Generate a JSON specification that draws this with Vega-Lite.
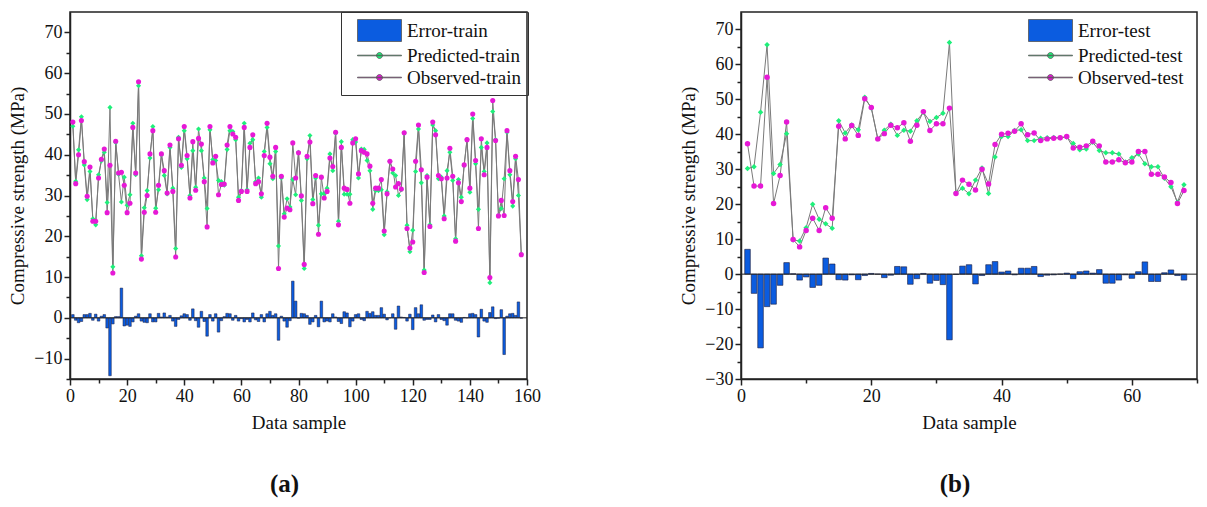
{
"$schema": "https://vega.github.io/schema/vega-lite/v6.json",
"background": "white",
"padding": {"left": 8, "top": 10, "right": 5, "bottom": 0},
"config": {
 "font": "Liberation Serif",
 "view": {"stroke": "#222", "strokeWidth": 1.5},
 "axis": {"domainColor": "#222", "domainWidth": 1.5, "tickColor": "#222", "tickWidth": 1.5, "labelFont": "Liberation Serif", "labelFontSize": 18, "labelColor": "#111", "titleFont": "Liberation Serif", "titleFontSize": 19, "titleFontWeight": "normal", "titleColor": "#111", "grid": false, "labelPadding": 2, "labelFlush": false, "labelOverlap": false},
 "legend": {"title": null, "padding": 7, "labelFont": "Liberation Serif", "labelFontSize": 19, "labelColor": "#111", "rowPadding": -3, "symbolSize": 484, "symbolOffset": 20, "labelOffset": 16, "symbolStrokeWidth": 0.8, "symbolStrokeColor": "#555555"},
 "title": {"font": "Liberation Serif", "fontSize": 25, "fontWeight": "bold", "color": "#111"},
 "concat": {"spacing": 137}
},
"datasets": {
 "train": [
{"n":1,"o":48.0,"p":47.0,"e":0.8},{"n":2,"o":32.9,"p":33.5,"e":-0.6},{"n":3,"o":40.0,"p":41.2,"e":-1.2},{"n":4,"o":48.4,"p":49.3,"e":-0.9},{"n":5,"o":38.3,"p":37.5,"e":0.8},{"n":6,"o":29.8,"p":29.0,"e":0.8},{"n":7,"o":37.0,"p":35.9,"e":1.1},{"n":8,"o":23.7,"p":24.3,"e":-0.6},{"n":9,"o":23.7,"p":22.8,"e":0.9},{"n":10,"o":34.3,"p":35.1,"e":-0.8},
{"n":11,"o":38.9,"p":38.5,"e":0.4},{"n":12,"o":41.4,"p":40.6,"e":0.8},{"n":13,"o":25.8,"p":28.3,"e":-2.5},{"n":14,"o":37.4,"p":51.6,"e":-14.2},{"n":15,"o":11.0,"p":12.5,"e":-1.5},{"n":16,"o":43.3,"p":43.0,"e":0.3},{"n":17,"o":35.5,"p":35.2,"e":0.3},{"n":18,"o":35.7,"p":28.4,"e":7.3},{"n":19,"o":32.5,"p":34.5,"e":-2.0},{"n":20,"o":25.8,"p":27.6,"e":-1.8},
{"n":21,"o":28.1,"p":30.2,"e":-2.1},{"n":22,"o":46.7,"p":47.7,"e":-1.0},{"n":23,"o":35.5,"p":35.1,"e":0.4},{"n":24,"o":57.9,"p":56.9,"e":1.0},{"n":25,"o":14.4,"p":15.2,"e":-0.8},{"n":26,"o":25.9,"p":27.0,"e":-1.1},{"n":27,"o":30.0,"p":31.2,"e":-1.2},{"n":28,"o":40.2,"p":39.2,"e":1.0},{"n":29,"o":45.9,"p":46.9,"e":-1.0},{"n":30,"o":25.9,"p":26.9,"e":-1.0},
{"n":31,"o":32.5,"p":31.4,"e":1.1},{"n":32,"o":40.2,"p":40.0,"e":0.2},{"n":33,"o":36.1,"p":34.9,"e":1.2},{"n":34,"o":30.6,"p":30.4,"e":0.2},{"n":35,"o":42.4,"p":41.8,"e":0.6},{"n":36,"o":31.0,"p":31.8,"e":-0.8},{"n":37,"o":14.9,"p":17.0,"e":-2.1},{"n":38,"o":43.9,"p":44.3,"e":-0.4},{"n":39,"o":37.4,"p":36.9,"e":0.5},{"n":40,"o":46.9,"p":45.9,"e":1.0},
{"n":41,"o":39.8,"p":39.0,"e":0.8},{"n":42,"o":29.4,"p":30.0,"e":-0.6},{"n":43,"o":43.2,"p":41.0,"e":2.2},{"n":44,"o":31.3,"p":32.0,"e":-0.7},{"n":45,"o":44.0,"p":46.3,"e":-2.3},{"n":46,"o":42.6,"p":41.0,"e":1.6},{"n":47,"o":33.4,"p":34.3,"e":-0.9},{"n":48,"o":22.3,"p":26.8,"e":-4.5},{"n":49,"o":46.9,"p":46.1,"e":0.8},{"n":50,"o":38.0,"p":38.8,"e":-0.8},
{"n":51,"o":39.6,"p":38.6,"e":1.0},{"n":52,"o":30.2,"p":33.7,"e":-3.5},{"n":53,"o":32.7,"p":33.4,"e":-0.7},{"n":54,"o":32.8,"p":32.5,"e":0.3},{"n":55,"o":42.4,"p":41.3,"e":1.1},{"n":56,"o":46.9,"p":45.9,"e":1.0},{"n":57,"o":45.1,"p":45.7,"e":-0.6},{"n":58,"o":44.3,"p":43.7,"e":0.6},{"n":59,"o":28.8,"p":29.6,"e":-0.8},{"n":60,"o":31.0,"p":31.2,"e":-0.2},
{"n":61,"o":46.7,"p":47.7,"e":-1.0},{"n":62,"o":31.0,"p":31.4,"e":-0.4},{"n":63,"o":41.8,"p":42.8,"e":-1.0},{"n":64,"o":44.9,"p":43.7,"e":1.2},{"n":65,"o":32.9,"p":33.4,"e":-0.5},{"n":66,"o":33.4,"p":34.3,"e":-0.9},{"n":67,"o":30.4,"p":29.6,"e":0.8},{"n":68,"o":39.8,"p":40.8,"e":-1.0},{"n":69,"o":47.7,"p":46.7,"e":1.0},{"n":70,"o":39.4,"p":37.8,"e":1.6},
{"n":71,"o":34.7,"p":34.1,"e":0.6},{"n":72,"o":41.8,"p":40.8,"e":1.0},{"n":73,"o":12.1,"p":17.6,"e":-5.5},{"n":74,"o":34.7,"p":34.3,"e":0.4},{"n":75,"o":24.7,"p":25.5,"e":-0.8},{"n":76,"o":26.9,"p":29.2,"e":-2.3},{"n":77,"o":26.5,"p":27.2,"e":-0.7},{"n":78,"o":42.9,"p":33.9,"e":9.0},{"n":79,"o":34.3,"p":30.2,"e":4.1},{"n":80,"o":40.5,"p":40.6,"e":-0.1},
{"n":81,"o":29.9,"p":28.8,"e":1.1},{"n":82,"o":13.1,"p":12.1,"e":1.0},{"n":83,"o":39.6,"p":39.0,"e":0.6},{"n":84,"o":43.1,"p":44.7,"e":-1.6},{"n":85,"o":28.0,"p":29.0,"e":-1.0},{"n":86,"o":34.9,"p":34.3,"e":0.6},{"n":87,"o":20.5,"p":22.7,"e":-2.2},{"n":88,"o":34.5,"p":30.4,"e":4.1},{"n":89,"o":29.4,"p":30.4,"e":-1.0},{"n":90,"o":31.0,"p":31.8,"e":-0.8},
{"n":91,"o":39.2,"p":40.2,"e":-1.0},{"n":92,"o":37.1,"p":36.1,"e":1.0},{"n":93,"o":45.5,"p":45.3,"e":0.2},{"n":94,"o":22.8,"p":23.7,"e":-0.9},{"n":95,"o":41.8,"p":43.2,"e":-1.4},{"n":96,"o":31.8,"p":30.3,"e":1.5},{"n":97,"o":31.5,"p":30.3,"e":1.2},{"n":98,"o":28.1,"p":30.3,"e":-2.2},{"n":99,"o":42.9,"p":43.7,"e":-0.8},{"n":100,"o":43.9,"p":43.1,"e":0.8},
{"n":101,"o":35.3,"p":34.3,"e":1.0},{"n":102,"o":41.0,"p":41.4,"e":-0.4},{"n":103,"o":40.6,"p":41.3,"e":-0.7},{"n":104,"o":40.2,"p":38.6,"e":1.6},{"n":105,"o":37.2,"p":36.1,"e":1.1},{"n":106,"o":28.1,"p":26.6,"e":1.5},{"n":107,"o":31.8,"p":31.2,"e":0.6},{"n":108,"o":31.8,"p":31.2,"e":0.6},{"n":109,"o":33.9,"p":31.4,"e":2.5},{"n":110,"o":21.3,"p":20.4,"e":0.9},
{"n":111,"o":30.4,"p":30.9,"e":-0.5},{"n":112,"o":38.4,"p":38.4,"e":0.0},{"n":113,"o":36.5,"p":35.5,"e":1.0},{"n":114,"o":32.1,"p":34.9,"e":-2.8},{"n":115,"o":32.9,"p":30.0,"e":2.9},{"n":116,"o":31.6,"p":31.4,"e":0.2},{"n":117,"o":45.4,"p":45.3,"e":0.1},{"n":118,"o":21.9,"p":22.7,"e":-0.8},{"n":119,"o":17.1,"p":16.2,"e":0.9},{"n":120,"o":18.6,"p":21.5,"e":-2.9},
{"n":121,"o":38.4,"p":35.9,"e":2.5},{"n":122,"o":47.3,"p":46.3,"e":1.0},{"n":123,"o":36.3,"p":33.1,"e":3.2},{"n":124,"o":11.1,"p":11.7,"e":-0.6},{"n":125,"o":34.5,"p":34.9,"e":-0.4},{"n":126,"o":22.4,"p":22.8,"e":-0.4},{"n":127,"o":48.0,"p":47.3,"e":0.7},{"n":128,"o":44.9,"p":45.9,"e":-1.0},{"n":129,"o":34.9,"p":34.1,"e":0.8},{"n":130,"o":34.1,"p":34.5,"e":-0.4},
{"n":131,"o":24.3,"p":25.0,"e":-0.7},{"n":132,"o":34.3,"p":36.1,"e":-1.8},{"n":133,"o":41.6,"p":40.6,"e":1.0},{"n":134,"o":34.7,"p":33.7,"e":1.0},{"n":135,"o":18.8,"p":19.4,"e":-0.6},{"n":136,"o":33.1,"p":33.9,"e":-0.8},{"n":137,"o":28.5,"p":29.6,"e":-1.1},{"n":138,"o":37.5,"p":37.4,"e":0.1},{"n":139,"o":43.7,"p":43.7,"e":0.0},{"n":140,"o":31.8,"p":30.8,"e":1.0},
{"n":141,"o":50.0,"p":48.9,"e":1.1},{"n":142,"o":38.6,"p":37.8,"e":0.8},{"n":143,"o":21.9,"p":26.6,"e":-4.7},{"n":144,"o":43.9,"p":41.8,"e":2.1},{"n":145,"o":35.1,"p":35.9,"e":-0.8},{"n":146,"o":41.8,"p":42.9,"e":-1.1},{"n":147,"o":9.9,"p":8.6,"e":1.3},{"n":148,"o":53.3,"p":50.6,"e":2.7},{"n":149,"o":43.5,"p":43.7,"e":-0.2},{"n":150,"o":25.0,"p":25.1,"e":-0.1},
{"n":151,"o":28.8,"p":26.8,"e":2.0},{"n":152,"o":25.1,"p":34.1,"e":-9.0},{"n":153,"o":45.9,"p":45.5,"e":0.4},{"n":154,"o":36.1,"p":35.1,"e":1.0},{"n":155,"o":28.5,"p":27.4,"e":1.1},{"n":156,"o":39.6,"p":39.0,"e":0.6},{"n":157,"o":33.9,"p":30.0,"e":3.9},{"n":158,"o":15.5,"p":15.6,"e":-0.1}
 ],
 "test": [
{"n":1,"o":37.3,"p":30.2,"e":7.1},{"n":2,"o":25.2,"p":30.7,"e":-5.5},{"n":3,"o":25.2,"p":46.3,"e":-21.1},{"n":4,"o":56.3,"p":65.6,"e":-9.3},{"n":5,"o":20.2,"p":28.8,"e":-8.6},{"n":6,"o":28.2,"p":31.4,"e":-3.2},{"n":7,"o":43.5,"p":40.2,"e":3.3},{"n":8,"o":9.9,"p":9.8,"e":0.1},{"n":9,"o":7.8,"p":9.5,"e":-1.7},{"n":10,"o":12.5,"p":13.3,"e":-0.8},
{"n":11,"o":16.0,"p":20.0,"e":-3.8},{"n":12,"o":12.5,"p":15.7,"e":-3.2},{"n":13,"o":19.0,"p":14.4,"e":4.6},{"n":14,"o":16.0,"p":13.1,"e":2.9},{"n":15,"o":42.3,"p":43.9,"e":-1.6},{"n":16,"o":38.7,"p":40.4,"e":-1.7},{"n":17,"o":42.5,"p":42.7,"e":-0.2},{"n":18,"o":39.7,"p":41.3,"e":-1.6},{"n":19,"o":50.2,"p":50.6,"e":-0.4},{"n":20,"o":47.7,"p":47.5,"e":0.2},
{"n":21,"o":38.7,"p":38.7,"e":0.0},{"n":22,"o":40.2,"p":41.2,"e":-1.0},{"n":23,"o":42.6,"p":42.9,"e":-0.3},{"n":24,"o":41.9,"p":39.7,"e":2.2},{"n":25,"o":43.3,"p":41.2,"e":2.1},{"n":26,"o":38.0,"p":40.9,"e":-2.9},{"n":27,"o":42.6,"p":43.9,"e":-1.3},{"n":28,"o":46.5,"p":46.3,"e":0.2},{"n":29,"o":41.1,"p":43.7,"e":-2.6},{"n":30,"o":43.0,"p":44.8,"e":-1.8},
{"n":31,"o":43.0,"p":46.0,"e":-3.0},{"n":32,"o":47.5,"p":66.3,"e":-18.8},{"n":33,"o":23.1,"p":23.2,"e":-0.1},{"n":34,"o":26.9,"p":24.6,"e":2.3},{"n":35,"o":25.7,"p":23.0,"e":2.7},{"n":36,"o":24.1,"p":26.9,"e":-2.8},{"n":37,"o":30.0,"p":30.4,"e":-0.4},{"n":38,"o":25.8,"p":23.1,"e":2.7},{"n":39,"o":37.1,"p":33.5,"e":3.6},{"n":40,"o":40.0,"p":39.4,"e":0.6},
{"n":41,"o":40.3,"p":39.4,"e":0.9},{"n":42,"o":40.9,"p":41.1,"e":-0.2},{"n":43,"o":43.0,"p":41.3,"e":1.7},{"n":44,"o":39.9,"p":38.2,"e":1.7},{"n":45,"o":40.4,"p":38.2,"e":2.2},{"n":46,"o":38.2,"p":38.9,"e":-0.7},{"n":47,"o":38.7,"p":39.0,"e":-0.3},{"n":48,"o":38.9,"p":39.1,"e":-0.2},{"n":49,"o":39.0,"p":39.0,"e":0.0},{"n":50,"o":39.4,"p":39.2,"e":0.3},
{"n":51,"o":36.1,"p":37.4,"e":-1.3},{"n":52,"o":36.3,"p":35.6,"e":0.7},{"n":53,"o":36.7,"p":35.8,"e":0.9},{"n":54,"o":38.0,"p":37.7,"e":0.3},{"n":55,"o":36.7,"p":35.4,"e":1.3},{"n":56,"o":32.1,"p":34.7,"e":-2.6},{"n":57,"o":32.1,"p":34.7,"e":-2.6},{"n":58,"o":32.7,"p":34.4,"e":-1.7},{"n":59,"o":31.9,"p":32.1,"e":-0.2},{"n":60,"o":32.1,"p":33.3,"e":-1.2},
{"n":61,"o":35.1,"p":34.4,"e":0.7},{"n":62,"o":35.1,"p":31.6,"e":3.5},{"n":63,"o":28.6,"p":30.7,"e":-2.1},{"n":64,"o":28.6,"p":30.7,"e":-2.1},{"n":65,"o":27.8,"p":27.4,"e":0.4},{"n":66,"o":26.2,"p":25.0,"e":1.2},{"n":67,"o":20.2,"p":20.6,"e":-0.4},{"n":68,"o":23.9,"p":25.6,"e":-1.7}
 ]
},
"hconcat": [
 {
  "width": 457, "height": 367,
  "data": {"name": "train"},
  "title": {"text": "(a)", "orient": "bottom", "offset": 40, "dx": -14},
  "encoding": {
   "x": {"field": "n", "type": "quantitative", "scale": {"domain": [0, 160], "nice": false, "zero": false, "padding": 0},
         "axis": {"title": "Data sample", "titlePadding": 8, "labelOverlap": false, "values": [0,10,20,30,40,50,60,70,80,90,100,110,120,130,140,150,160], "labelExpr": "datum.value % 20 === 0 ? datum.label : ''", "tickSize": {"condition": {"test": "datum.value % 20 === 0", "value": 6}, "value": 4}}},
   "y": {"field": "v", "type": "quantitative", "stack": null, "scale": {"domain": [-15, 75], "nice": false, "zero": false, "padding": 0},
         "axis": {"title": "Compressive strength (MPa)", "titlePadding": 6, "labelOverlap": false, "values": [-15,-10,-5,0,5,10,15,20,25,30,35,40,45,50,55,60,65,70], "labelExpr": "datum.value % 10 === 0 ? datum.label : ''", "tickSize": {"condition": {"test": "datum.value % 10 === 0", "value": 6}, "value": 4}}},
   "color": {"field": "k", "type": "nominal", "scale": {"domain": ["e", "p", "o"], "range": ["#0b5ce0", "#1ef07a", "#e619d6"]},
             "legend": {"orient": "none", "legendX": 271, "legendY": 0, "strokeColor": "#333",
                        "labelExpr": "datum.value === 'e' ? 'Error-train' : datum.value === 'p' ? 'Predicted-train' : 'Observed-train'"}}
  },
  "layer": [
   {"transform": [{"fold": ["e"], "as": ["k", "v"]}],
    "mark": {"type": "bar", "size": 2.6, "stroke": "#1a1a3a", "strokeWidth": 0.5}},
   {"data": {"values": [{"n": 0, "n2": 160, "v": 0}]},
    "mark": {"type": "rule", "strokeWidth": 1},
    "encoding": {"x2": {"field": "n2"}, "color": {"value": "#222"}}},
   {"transform": [{"fold": ["p", "o"], "as": ["k", "v"]}],
    "mark": {"type": "line", "strokeWidth": 1},
    "encoding": {"color": {"value": "#7a7a7a"}, "detail": {"field": "k"}}},
   {"transform": [{"fold": ["p"], "as": ["k", "v"]}],
    "mark": {"type": "point", "filled": true, "opacity": 1, "size": 26, "shape": "diamond"}},
   {"transform": [{"fold": ["o"], "as": ["k", "v"]}],
    "mark": {"type": "point", "filled": true, "opacity": 1, "size": 26, "shape": "circle"}},
   {"transform": [{"filter": "datum.n < 0"}, {"fold": ["e"], "as": ["k", "v"]}],
    "mark": {"type": "point", "filled": true, "opacity": 1},
    "encoding": {"shape": {"field": "k", "type": "nominal",
                           "scale": {"domain": ["e", "p", "o"], "range": ["M-2,-1H2V1H-2Z", "M-2,-0.03H2V0.03H-2ZM0.27,0A0.27,0.27,0,1,1,-0.27,0A0.27,0.27,0,1,1,0.27,0Z", "M-2,-0.03H2V0.03H-2ZM0.27,0A0.27,0.27,0,1,1,-0.27,0A0.27,0.27,0,1,1,0.27,0Z"]},
                           "legend": {"orient": "none", "legendX": 271, "legendY": 0, "strokeColor": "#333", "labelExpr": "datum.value === 'e' ? 'Error-train' : datum.value === 'p' ? 'Predicted-train' : 'Observed-train'"}}}}
  ]
 },
 {
  "width": 456, "height": 367,
  "data": {"name": "test"},
  "title": {"text": "(b)", "orient": "bottom", "offset": 40, "dx": -14},
  "encoding": {
   "x": {"field": "n", "type": "quantitative", "scale": {"domain": [0, 70], "nice": false, "zero": false, "padding": 0},
         "axis": {"title": "Data sample", "titlePadding": 8, "labelOverlap": false, "values": [0,10,20,30,40,50,60,70], "labelExpr": "datum.value % 20 === 0 ? datum.label : ''", "tickSize": {"condition": {"test": "datum.value % 20 === 0", "value": 6}, "value": 4}}},
   "y": {"field": "v", "type": "quantitative", "stack": null, "scale": {"domain": [-30, 75], "nice": false, "zero": false, "padding": 0},
         "axis": {"title": "Compressive strength (MPa)", "titlePadding": 6, "labelOverlap": false, "values": [-30,-25,-20,-15,-10,-5,0,5,10,15,20,25,30,35,40,45,50,55,60,65,70], "labelExpr": "datum.value % 10 === 0 ? datum.label : ''", "tickSize": {"condition": {"test": "datum.value % 10 === 0", "value": 6}, "value": 4}}},
   "color": {"field": "k", "type": "nominal", "scale": {"domain": ["e", "p", "o"], "range": ["#0b5ce0", "#1ef07a", "#e619d6"]},
             "legend": {"orient": "none", "legendX": 271, "legendY": 0, "labelExpr": "datum.value === 'e' ? 'Error-test' : datum.value === 'p' ? 'Predicted-test' : 'Observed-test'"}}
  },
  "layer": [
   {"transform": [{"fold": ["e"], "as": ["k", "v"]}],
    "mark": {"type": "bar", "size": 5.6, "stroke": "#1a1a3a", "strokeWidth": 0.6}},
   {"data": {"values": [{"n": 0, "n2": 70, "v": 0}]},
    "mark": {"type": "rule", "strokeWidth": 1},
    "encoding": {"x2": {"field": "n2"}, "color": {"value": "#222"}}},
   {"transform": [{"fold": ["p", "o"], "as": ["k", "v"]}],
    "mark": {"type": "line", "strokeWidth": 1},
    "encoding": {"color": {"value": "#7a7a7a"}, "detail": {"field": "k"}}},
   {"transform": [{"fold": ["p"], "as": ["k", "v"]}],
    "mark": {"type": "point", "filled": true, "opacity": 1, "size": 30, "shape": "diamond"}},
   {"transform": [{"fold": ["o"], "as": ["k", "v"]}],
    "mark": {"type": "point", "filled": true, "opacity": 1, "size": 30, "shape": "circle"}},
   {"transform": [{"filter": "datum.n < 0"}, {"fold": ["e"], "as": ["k", "v"]}],
    "mark": {"type": "point", "filled": true, "opacity": 1},
    "encoding": {"shape": {"field": "k", "type": "nominal",
                           "scale": {"domain": ["e", "p", "o"], "range": ["M-2,-1H2V1H-2Z", "M-2,-0.03H2V0.03H-2ZM0.27,0A0.27,0.27,0,1,1,-0.27,0A0.27,0.27,0,1,1,0.27,0Z", "M-2,-0.03H2V0.03H-2ZM0.27,0A0.27,0.27,0,1,1,-0.27,0A0.27,0.27,0,1,1,0.27,0Z"]},
                           "legend": {"orient": "none", "legendX": 271, "legendY": 0, "labelExpr": "datum.value === 'e' ? 'Error-test' : datum.value === 'p' ? 'Predicted-test' : 'Observed-test'"}}}}
  ]
 }
],
"resolve": {"scale": {"color": "independent", "shape": "independent"}}
}
